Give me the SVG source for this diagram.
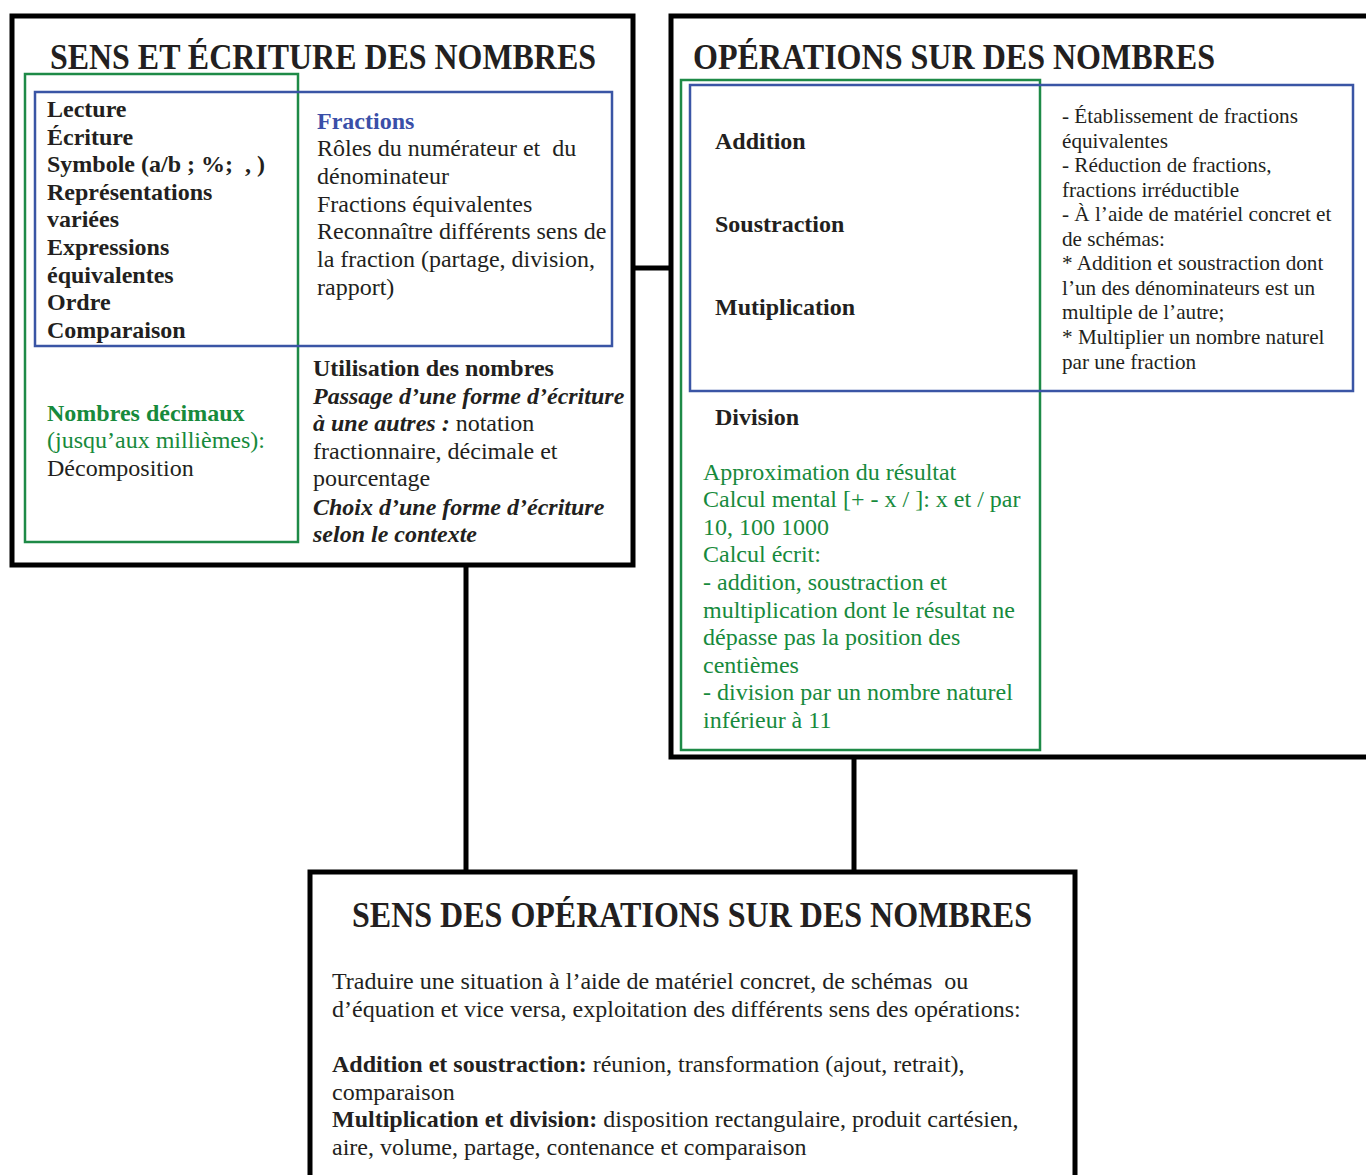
<svg xmlns="http://www.w3.org/2000/svg" width="1366" height="1175" viewBox="0 0 1366 1175">
<style>
.box{fill:#fff;stroke:#000;stroke-width:5}
.g{fill:none;stroke:#1e8a47;stroke-width:2.5}
.b{fill:none;stroke:#3a55a5;stroke-width:2.5}
.conn{stroke:#000;stroke-width:5;fill:none}
text{font-family:"Liberation Serif","Times New Roman",serif;fill:#231f20}
.title{font-size:35px;font-weight:bold}
.t22{font-size:24px}
.t20{font-size:21.2px}
.bd{font-weight:bold}
.bi{font-weight:bold;font-style:italic}
.gr{fill:#178a3c}
.bl{fill:#3a4fa8}
</style>
<g id="connectors">
<line class="conn" x1="630" y1="268" x2="669" y2="268"/>
<line class="conn" x1="466" y1="565" x2="466" y2="873"/>
<line class="conn" x1="854" y1="757" x2="854" y2="873"/>
</g>
<g id="node-sens-ecriture">
<rect class="box" x="12" y="16" width="621" height="549"/>
<text class="title" x="50" y="69" textLength="546" lengthAdjust="spacingAndGlyphs">SENS ET ÉCRITURE DES NOMBRES</text>
<rect class="g" x="25" y="74" width="273" height="468"/>
<rect class="b" x="35" y="92" width="577" height="254"/>
<text class="t22 bd" x="47" xml:space="preserve"><tspan x="47" y="117">Lecture</tspan><tspan x="47" y="145">Écriture</tspan><tspan x="47" y="172">Symbole (a/b ; %;  , )</tspan><tspan x="47" y="200">Représentations</tspan><tspan x="47" y="227">variées</tspan><tspan x="47" y="255">Expressions</tspan><tspan x="47" y="283">équivalentes</tspan><tspan x="47" y="310">Ordre</tspan><tspan x="47" y="338">Comparaison</tspan></text>
<text class="t22 bd bl" x="317" y="129">Fractions</text>
<text class="t22" x="317" xml:space="preserve"><tspan x="317" y="156">Rôles du numérateur et  du</tspan><tspan x="317" y="184">dénominateur</tspan><tspan x="317" y="212">Fractions équivalentes</tspan><tspan x="317" y="239">Reconnaître différents sens de</tspan><tspan x="317" y="267">la fraction (partage, division,</tspan><tspan x="317" y="295">rapport)</tspan></text>
<text class="t22 bd" x="313" y="376">Utilisation des nombres</text>
<text class="t22 bi" x="313" y="404">Passage d’une forme d’écriture</text>
<text class="t22" x="313" y="431"><tspan class="bi">à une autres :</tspan> notation</text>
<text class="t22" x="313"><tspan x="313" y="459">fractionnaire, décimale et</tspan><tspan x="313" y="486">pourcentage</tspan></text>
<text class="t22 bi" x="313"><tspan x="313" y="515">Choix d’une forme d’écriture</tspan><tspan x="313" y="542">selon le contexte</tspan></text>
<text class="t22 bd gr" x="47" y="421">Nombres décimaux</text>
<text class="t22 gr" x="47" y="448">(jusqu’aux millièmes):</text>
<text class="t22" x="47" y="476">Décomposition</text>
</g>
<g id="node-operations">
<rect class="box" x="671" y="16" width="710" height="741"/>
<text class="title" x="693" y="69" textLength="522" lengthAdjust="spacingAndGlyphs">OPÉRATIONS SUR DES NOMBRES</text>
<rect class="g" x="681" y="80" width="359" height="670"/>
<rect class="b" x="690" y="85" width="663" height="306"/>
<text class="t22 bd" x="715" y="149">Addition</text>
<text class="t22 bd" x="715" y="232">Soustraction</text>
<text class="t22 bd" x="715" y="315">Mutiplication</text>
<text class="t22 bd" x="715" y="425">Division</text>
<text class="t20" x="1062"><tspan x="1062" y="123">- Établissement de fractions</tspan><tspan x="1062" y="148">équivalentes</tspan><tspan x="1062" y="172">- Réduction de fractions,</tspan><tspan x="1062" y="197">fractions irréductible</tspan><tspan x="1062" y="221">- À l’aide de matériel concret et</tspan><tspan x="1062" y="246">de schémas:</tspan><tspan x="1062" y="270">* Addition et soustraction dont</tspan><tspan x="1062" y="295">l’un des dénominateurs est un</tspan><tspan x="1062" y="319">multiple de l’autre;</tspan><tspan x="1062" y="344">* Multiplier un nombre naturel</tspan><tspan x="1062" y="369">par une fraction</tspan></text>
<text class="t22 gr" x="703"><tspan x="703" y="480">Approximation du résultat</tspan><tspan x="703" y="507">Calcul mental [+ - x / ]: x et / par</tspan><tspan x="703" y="535">10, 100 1000</tspan><tspan x="703" y="562">Calcul écrit:</tspan><tspan x="703" y="590">- addition, soustraction et</tspan><tspan x="703" y="618">multiplication dont le résultat ne</tspan><tspan x="703" y="645">dépasse pas la position des</tspan><tspan x="703" y="673">centièmes</tspan><tspan x="703" y="700">- division par un nombre naturel</tspan><tspan x="703" y="728">inférieur à 11</tspan></text>
</g>
<g id="node-sens-operations">
<rect class="box" x="310" y="872" width="765" height="320"/>
<text class="title" x="352" y="927" textLength="680" lengthAdjust="spacingAndGlyphs">SENS DES OPÉRATIONS SUR DES NOMBRES</text>
<text class="t22" x="332" xml:space="preserve"><tspan x="332" y="989">Traduire une situation à l’aide de matériel concret, de schémas  ou</tspan><tspan x="332" y="1017">d’équation et vice versa, exploitation des différents sens des opérations:</tspan></text>
<text class="t22" x="332" y="1072"><tspan class="bd">Addition et soustraction:</tspan> réunion, transformation (ajout, retrait),</text>
<text class="t22" x="332" y="1100">comparaison</text>
<text class="t22" x="332" y="1127"><tspan class="bd">Multiplication et division:</tspan> disposition rectangulaire, produit cartésien,</text>
<text class="t22" x="332" y="1155">aire, volume, partage, contenance et comparaison</text>
</g>
</svg>
